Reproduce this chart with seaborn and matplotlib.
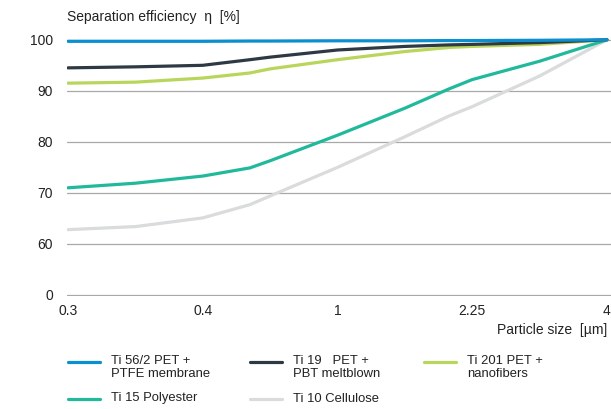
import matplotlib
matplotlib.use('Agg')
import matplotlib.pyplot as plt
from matplotlib.lines import Line2D
import seaborn as sns
import pandas as pd

# particle size ticks (equally spaced on the chart)
size_labels = ['0.3', '0.4', '1', '2.25', '4']
# positions along the x axis where values were read (0 = 0.3 µm ... 4 = 4 µm)
pos = [0, 0.5, 1, 1.35, 1.5, 2, 2.5, 2.83, 3, 3.5, 4]

ti56 = [99.7, 99.7, 99.7, 99.75, 99.75, 99.8, 99.8, 99.85, 99.85, 99.9, 100]
ti19 = [94.5, 94.7, 95.0, 96.1, 96.6, 98.0, 98.7, 99.0, 99.1, 99.45, 100]
ti201 = [91.5, 91.7, 92.5, 93.5, 94.3, 96.1, 97.7, 98.5, 98.7, 99.1, 100]
ti15 = [71.0, 71.9, 73.3, 74.9, 76.3, 81.3, 86.6, 90.4, 92.2, 95.8, 100]
ti10 = [62.8, 63.4, 65.1, 67.7, 69.4, 75.0, 81.0, 85.1, 86.9, 92.9, 100]

series = ['Ti 56/2 PET +\nPTFE membrane', 'Ti 19   PET +\nPBT meltblown',
          'Ti 201 PET +\nnanofibers', 'Ti 15 Polyester', 'Ti 10 Cellulose']
colors = ['#0a8fd0', '#2e3a43', '#b9d65c', '#20b99b', '#d9dbdc']

# y axis: bottom of the chart is labeled 0 (broken axis), rest 60..100
ytick_vals = [50, 60, 70, 80, 90, 100]
ytick_labels = ['0', '60', '70', '80', '90', '100']

df = pd.DataFrame({
    'pos': pos * 5,
    'eff': ti56 + ti19 + ti201 + ti15 + ti10,
    'filter': [s for s in series for _ in pos],
})

sns.set_style('white')
plt.rcParams['font.family'] = ['Liberation Sans', 'DejaVu Sans']
text_col = '#222222'
grid_col = '#a8a8a8'

fig = plt.figure(figsize=(6.11, 4.09), dpi=100)
ax = fig.add_axes([66.7 / 611, 1 - 296 / 409, (611 - 66.7) / 611, (296 - 35.7) / 409])

for y in ytick_vals:
    ax.axhline(y, color=grid_col, lw=0.9, zorder=0)

# draw back to front so the blue line sits on top
order = [4, 3, 2, 1, 0]
sns.lineplot(data=df, x='pos', y='eff', hue='filter', hue_order=[series[i] for i in order],
             palette=[colors[i] for i in order], lw=2.3, ax=ax, legend=False, sort=True)

ax.set_xlim(-0.01, 4.03)
ax.set_ylim(49.8, 100.8)
ax.set_xticks(range(len(size_labels)))
ax.set_xticklabels(size_labels)
ax.set_yticks(ytick_vals)
ax.set_yticklabels(ytick_labels)
ax.set_xlabel('')
ax.set_ylabel('')
for s in ax.spines.values():
    s.set_visible(False)
ax.tick_params(axis='x', length=4, width=0.9, color=grid_col, pad=2,
               labelsize=10, labelcolor=text_col)
ax.tick_params(axis='y', length=0, pad=10, labelsize=10, labelcolor=text_col)

fig.text(67 / 611, 1 - 17 / 409, 'Separation efficiency  η  [%]', fontsize=10,
         color=text_col, va='center', ha='left')
fig.text(607 / 611, 1 - 330 / 409, 'Particle size  [µm]', fontsize=10,
         color=text_col, va='center', ha='right')

# legend, laid out in rows like the original
slots = [(68, 362), (250, 362), (424, 362), (68, 399), (250, 399)]
for (lx, ly), name, c in zip(slots, series, colors):
    yy = 1 - ly / 409
    fig.add_artist(Line2D([lx / 611, (lx + 32) / 611], [yy, yy], color=c, lw=2.3))
    fig.text((lx + 43) / 611, yy + 6.5 / 409, name, fontsize=9.4, color=text_col,
             va='top', ha='left', linespacing=1.1)

fig.savefig('out.png', dpi=100)
